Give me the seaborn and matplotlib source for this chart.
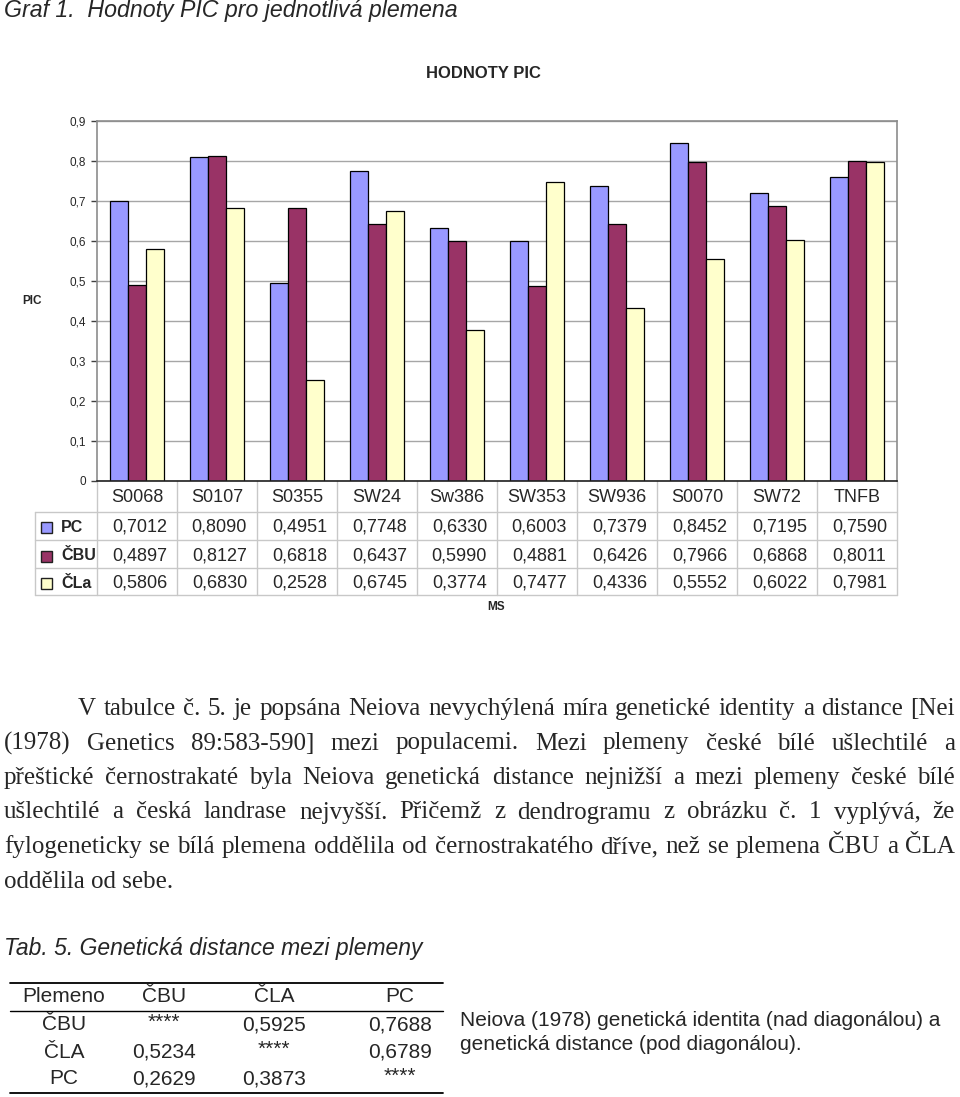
"""
Graf 1 - hodnoty PIC pro jednotlivá plemena + text a tab. 5
"""
import matplotlib
matplotlib.use("Agg")
import pandas as pd
import matplotlib.pyplot as plt
import matplotlib.transforms as mtransforms
from matplotlib.patches import Rectangle
from matplotlib.lines import Line2D
import seaborn as sns

# data
markers = ["S0068", "S0107", "S0355", "SW24", "Sw386", "SW353", "SW936", "S0070", "SW72", "TNFB"]
pc_values = [0.7012, 0.8090, 0.4951, 0.7748, 0.6330, 0.6003, 0.7379, 0.8452, 0.7195, 0.7590]
cbu_values = [0.4897, 0.8127, 0.6818, 0.6437, 0.5990, 0.4881, 0.6426, 0.7966, 0.6868, 0.8011]
cla_values = [0.5806, 0.6830, 0.2528, 0.6745, 0.3774, 0.7477, 0.4336, 0.5552, 0.6022, 0.7981]
breeds = ["PC", "ČBU", "ČLa"]
breed_colors = ["#9999FF", "#993366", "#FFFFCC"]
yticks = [0.0, 0.1, 0.2, 0.3, 0.4, 0.5, 0.6, 0.7, 0.8, 0.9]
ytick_labels = ["0", "0,1", "0,2", "0,3", "0,4", "0,5", "0,6", "0,7", "0,8", "0,9"]

paragraph = [
    "V tabulce č. 5. je popsána Neiova nevychýlená míra genetické identity a distance [Nei",
    "(1978) Genetics 89:583-590] mezi populacemi. Mezi plemeny české bílé ušlechtilé a",
    "přeštické černostrakaté byla Neiova genetická distance nejnižší a mezi plemeny české bílé",
    "ušlechtilé a česká landrase nejvyšší. Přičemž z dendrogramu z obrázku č. 1 vyplývá, že",
    "fylogeneticky se bílá plemena oddělila od černostrakatého dříve, než se plemena ČBU a ČLA",
    "oddělila od sebe.",
]

dist_header = ["Plemeno", "ČBU", "ČLA", "PC"]
dist_rows = [
    ["ČBU", "****", "0,5925", "0,7688"],
    ["ČLA", "0,5234", "****", "0,6789"],
    ["PC", "0,2629", "0,3873", "****"],
]
dist_note = ["Neiova (1978) genetická identita (nad diagonálou) a",
             "genetická distance (pod diagonálou)."]

df = pd.DataFrame({
    "marker": markers * 3,
    "breed": [b for b in breeds for _ in markers],
    "value": pc_values + cbu_values + cla_values,
})

# figure, pixel helpers
W, H = 960, 1097
sns.set_theme(style="white")
plt.rcParams["font.family"] = ["Liberation Sans", "DejaVu Sans"]
fig = plt.figure(figsize=(W / 100, H / 100), dpi=100)
fig.patch.set_facecolor("white")


def fx(x):
    return x / W


def fy(y):
    return 1 - y / H


AX_L, AX_R, AX_T, AX_B = 97, 897, 121, 481
ax = fig.add_axes([fx(AX_L), fy(AX_B), (AX_R - AX_L) / W, (AX_B - AX_T) / H])

sns.barplot(data=df, x="marker", y="value", hue="breed", hue_order=breeds,
            palette=breed_colors, width=0.675, edgecolor="black", linewidth=0.9,
            saturation=1, legend=False, ax=ax)
ax.set_xlim(-0.5, len(markers) - 0.5)
ax.set_ylim(0, 0.9)
ax.set_yticks(yticks)
ax.set_yticklabels(ytick_labels, fontsize=8.5)
ax.set_xticks([])
ax.set_xlabel("")
ax.set_ylabel("")
ax.set_axisbelow(True)
ax.yaxis.grid(True, color="#A6A6A6", linewidth=1)
ax.tick_params(axis="y", direction="out", length=4, width=1, pad=4, color="#404040", left=True)
for side in ["top", "right", "left"]:
    ax.spines[side].set_color("#8C8C8C")
    ax.spines[side].set_linewidth(1.2)
ax.spines["bottom"].set_color("#202020")
ax.spines["bottom"].set_linewidth(1.2)

# data table under the chart
def ay(y):
    return (AX_B - y) / (AX_B - AX_T)


trans = mtransforms.blended_transform_factory(ax.transData, ax.transAxes)
grid_c = "#C8C8C8"
for k in range(len(markers) + 1):
    ax.plot([k - 0.5, k - 0.5], [0, ay(595)], color=grid_c, lw=1, transform=trans, clip_on=False)
for yy in [512, 540, 568, 595]:
    fig.add_artist(Line2D([fx(35), fx(AX_R)], [fy(yy), fy(yy)], color=grid_c, lw=1))
fig.add_artist(Line2D([fx(35), fx(35)], [fy(512), fy(595)], color=grid_c, lw=1))

for i, m in enumerate(markers):
    ax.text(i, ay(498), m, transform=trans, ha="center", va="center", fontsize=13)

row_y = [527, 556, 583]
for vals, name, col, yy in zip([pc_values, cbu_values, cla_values], breeds, breed_colors, row_y):
    fig.add_artist(Rectangle((fx(41), fy(yy + 6)), 11 / W, 11 / H, facecolor=col,
                             edgecolor="#202020", lw=1, transform=fig.transFigure))
    fig.text(fx(61), fy(yy), name, ha="left", va="center", fontsize=11.5, fontweight="bold")
    for i, v in enumerate(vals):
        ax.text(i + 0.03, ay(yy), f"{v:.4f}".replace(".", ","), transform=trans,
                ha="center", va="center", fontsize=13)

fig.text(fx(496), fy(607), "MS", ha="center", va="center", fontsize=8.5, fontweight="bold")
fig.text(fx(32), fy(301), "PIC", ha="center", va="center", fontsize=8.5, fontweight="bold")
fig.text(fx(483), fy(74), "HODNOTY PIC", ha="center", va="center", fontsize=12, fontweight="bold")

fig.text(fx(4), fy(11), "Graf 1.  Hodnoty PIC pro jednotlivá plemena", ha="left", va="center",
         fontsize=16.7, style="italic")

# paragraph, justified
renderer = fig.canvas.get_renderer()
serif = ["Liberation Serif", "DejaVu Serif"]
base_y = 715
for n, line in enumerate(paragraph):
    y = fy(base_y + 34.5 * n)
    left = 78 if n == 0 else 4
    words = line.split(" ")
    if n == len(paragraph) - 1:
        fig.text(fx(left), y, line, ha="left", va="baseline", fontsize=18, family=serif)
        continue
    texts = [fig.text(0, y, w, ha="left", va="baseline", fontsize=18, family=serif) for w in words]
    widths = [t.get_window_extent(renderer).width for t in texts]
    gap = (955 - left - sum(widths)) / (len(words) - 1)
    x = left
    for t, w in zip(texts, widths):
        t.set_x(fx(x))
        x += w + gap

# tab. 5
fig.text(fx(4), fy(948), "Tab. 5. Genetická distance mezi plemeny", ha="left", va="center",
         fontsize=16.5, style="italic")
fig.add_artist(Line2D([fx(10), fx(443)], [fy(983), fy(983)], color="black", lw=1.3))
fig.add_artist(Line2D([fx(10), fx(443)], [fy(1011), fy(1011)], color="black", lw=1))
fig.add_artist(Line2D([fx(10), fx(443)], [fy(1093), fy(1093)], color="black", lw=1.3))
col_x = [64, 164, 274, 400]
for cx, h in zip(col_x, dist_header):
    fig.text(fx(cx), fy(997), h, ha="center", va="center", fontsize=15)
for yy, row in zip([1025, 1052, 1079], dist_rows):
    for cx, v in zip(col_x, row):
        dy = -3 if v == "****" else 0
        fig.text(fx(cx), fy(yy + dy), v, ha="center", va="center", fontsize=15)

for yy, line in zip([1020, 1044], dist_note):
    fig.text(fx(460), fy(yy), line, ha="left", va="center", fontsize=15)

fig.savefig("out.png", dpi=100)
plt.close(fig)
